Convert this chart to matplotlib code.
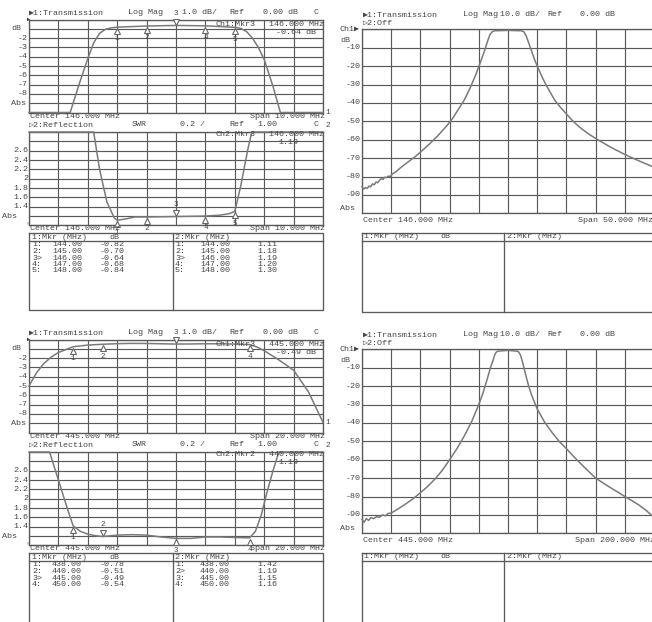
import numpy as np
import matplotlib
matplotlib.use('Agg')
import matplotlib.pyplot as plt
from matplotlib.transforms import offset_copy, blended_transform_factory

# ---------------- data ----------------
# Panel A: 146 MHz narrow (transmission + SWR)
a_center, a_span = 146.0, 10.0
a_trans_f = [141.0, 142.4, 142.7, 143.0, 143.2, 143.4, 143.6, 143.8, 144.0, 145.0, 146.0,
             147.0, 148.0, 148.2, 148.4, 148.6, 148.8, 149.0, 149.3, 149.55, 151.0]
a_trans_db = [-12.0, -10.0, -7.0, -4.2, -2.5, -1.5, -1.05, -0.9, -0.82, -0.70, -0.64,
              -0.68, -0.84, -0.95, -1.3, -2.0, -3.0, -4.3, -7.2, -10.0, -12.0]
a_swr_f = [141.0, 143.2, 143.4, 143.65, 143.9, 144.0, 144.3, 144.6, 145.0, 146.0, 147.0,
           147.5, 147.8, 148.0, 148.2, 148.45, 148.58, 151.0]
a_swr = [3.2, 3.0, 2.2, 1.5, 1.16, 1.11, 1.14, 1.18, 1.18, 1.19, 1.20,
         1.22, 1.25, 1.30, 1.84, 2.65, 3.0, 3.2]
a_mkr_f = [144.00, 145.00, 146.00, 147.00, 148.00]
a_mkr_db = [-0.82, -0.70, -0.64, -0.68, -0.84]
a_mkr_swr = [1.11, 1.18, 1.19, 1.20, 1.30]
a_active1, a_active2 = 3, 3

# Panel B: 146 MHz wide transmission
b_center, b_span = 146.0, 50.0
b_f = [121.0, 121.3, 121.6, 121.9, 122.2, 122.5, 122.8, 123.1, 123.4, 123.7, 124.0, 124.3,
       124.6, 124.9, 125.2, 125.5, 125.9, 126.2, 126.5, 126.8, 127.5, 128.5, 130.0, 131.0,
       132.5, 134.0, 135.5, 136.5, 137.5, 138.5, 139.5, 140.5, 141.5, 142.0, 142.5, 142.9,
       143.3, 143.7, 146.0, 148.3, 148.7, 149.1, 149.5, 150.0, 150.5, 151.0, 152.0, 153.0,
       154.0, 155.0, 156.0, 157.0, 158.0, 159.0, 160.0, 161.0, 162.0, 163.0, 164.0, 165.0,
       166.0, 167.0, 168.0, 169.0, 170.0, 171.0]
b_db = [-85.5, -86.8, -86.0, -86.5, -85.2, -85.6, -84.0, -84.5, -83.0, -83.4, -82.0, -81.2,
        -81.6, -80.4, -80.6, -79.8, -79.9, -78.6, -78.0, -77.5, -75.5, -73.0, -69.5, -66.8,
        -62.5, -57.8, -52.5, -48.5, -43.5, -38.5, -32.0, -24.5, -16.0, -11.5, -6.5, -3.0,
        -1.3, -0.8, -0.6, -0.8, -1.3, -3.5, -7.0, -11.5, -16.0, -20.0, -27.0, -33.0,
        -38.5, -42.5, -46.0, -49.5, -52.5, -55.0, -57.3, -59.3, -61.2, -63.0, -64.8, -66.4,
        -68.0, -69.5, -70.9, -72.3, -73.6, -75.0]

# Panel C: 445 MHz narrow (transmission + SWR)
c_center, c_span = 445.0, 20.0
c_trans_f = [435.0, 435.5, 436.0, 436.5, 437.0, 438.0, 439.0, 440.0, 441.0, 442.0, 443.0,
             444.0, 445.0, 446.0, 447.0, 448.0, 449.0, 450.0, 450.5, 451.0, 452.0, 453.0,
             454.0, 455.0]
c_trans_db = [-5.0, -3.6, -2.6, -1.9, -1.4, -0.78, -0.60, -0.51, -0.45, -0.42, -0.43,
              -0.46, -0.49, -0.48, -0.46, -0.46, -0.49, -0.54, -0.8, -1.2, -2.2, -3.3,
              -5.6, -8.9]
c_swr_f = [435.0, 436.4, 436.8, 437.2, 437.6, 438.0, 438.5, 439.0, 439.5, 440.0, 441.0,
           442.0, 443.0, 444.0, 445.0, 446.0, 447.0, 448.0, 449.0, 450.0, 450.4, 450.8,
           451.2, 451.6, 452.0, 455.0]
c_swr = [3.2, 3.0, 2.6, 2.2, 1.8, 1.42, 1.30, 1.24, 1.21, 1.19, 1.22,
         1.23, 1.22, 1.18, 1.15, 1.15, 1.18, 1.18, 1.17, 1.16, 1.30, 1.65,
         2.15, 2.60, 3.0, 3.2]
c_mkr_f = [438.00, 440.00, 445.00, 450.00]
c_mkr_db = [-0.78, -0.51, -0.49, -0.54]
c_mkr_swr = [1.42, 1.19, 1.15, 1.16]
c_active1, c_active2 = 3, 2

# Panel D: 445 MHz wide transmission
d_center, d_span = 445.0, 200.0
d_f = [345.0, 346.5, 348.0, 349.5, 351.0, 353.0, 355.0, 357.0, 359.0, 361.0, 363.0, 365.0,
       370.0, 375.0, 380.0, 385.0, 390.0, 395.0, 400.0, 405.0, 410.0, 415.0, 420.0, 425.0,
       428.0, 431.0, 433.0, 434.8, 436.0, 437.0, 438.0, 445.0, 451.0, 452.0, 453.5, 455.0,
       457.0, 459.0, 461.0, 463.0, 465.0, 470.0, 475.0, 480.0, 485.0, 490.0, 495.0, 500.0,
       505.0, 510.0, 515.0, 520.0, 525.0, 530.0, 535.0, 540.0, 545.0]
d_db = [-92.5, -94.0, -92.0, -93.0, -91.5, -92.0, -91.0, -91.3, -90.0, -90.5, -89.2, -89.0,
        -86.6, -84.0, -81.2, -78.0, -74.5, -70.5, -65.8, -60.0, -54.0, -47.2, -39.5, -30.0,
        -23.5, -15.5, -10.0, -6.0, -2.8, -1.5, -1.0, -0.6, -1.0, -1.2, -3.0, -7.0,
        -13.5, -19.5, -24.5, -28.5, -32.4, -39.5, -45.0, -50.0, -54.0, -58.3, -62.3, -66.2,
        -70.0, -72.6, -75.1, -77.5, -80.0, -82.3, -84.8, -87.8, -91.5]

trans_narrow_ticks = [-1, -2, -3, -4, -5, -6, -7, -8, -9]
trans_narrow_labels = ['dB', '-2', '-3', '-4', '-5', '-6', '-7', '-8', 'Abs']
swr_ticks = [2.6, 2.4, 2.2, 2.0, 1.8, 1.6, 1.4, 1.2]
swr_labels = ['2.6', '2.4', '2.2', '2', '1.8', '1.6', '1.4', 'Abs']
wide_ticks = [-10, -20, -30, -40, -50, -60, -70, -80, -90]
wide_labels = ['-10', '-20', '-30', '-40', '-50', '-60', '-70', '-80', '-90']

# ---------------- style ----------------
W, H = 652, 622
FONT = ['Liberation Mono', 'DejaVu Sans Mono', 'DejaVu Sans']
TXT = '#464646'
GRID = '#5a5a5a'
TRACE = '#7a7a7a'
FS = 6.0

fig = plt.figure(figsize=(W / 100, H / 100), dpi=100)
fig.patch.set_facecolor('white')

ov = fig.add_axes([0, 0, 1, 1], zorder=10)
ov.set_xlim(0, W)
ov.set_ylim(H, 0)
ov.axis('off')


def t(x, y, s, ha='left', va='center', fs=FS):
    ov.text(x, y, s, ha=ha, va=va, fontsize=fs, family=FONT, color=TXT)


def ax_px(x0, y0, x1, y1):
    return fig.add_axes([x0 / W, 1 - y1 / H, (x1 - x0) / W, (y1 - y0) / H])


def grid_axes(x0, y0, x1, y1, xlim, ylim):
    ax = ax_px(x0, y0, x1, y1)
    ax.set_xlim(xlim)
    ax.set_ylim(ylim)
    ax.set_xticks(np.linspace(xlim[0], xlim[1], 11))
    ax.set_yticks(np.linspace(ylim[0], ylim[1], 11))
    ax.tick_params(length=0, labelbottom=False, labelleft=False)
    ax.grid(True, color=GRID, lw=0.85)
    for s in ax.spines.values():
        s.set_color(GRID)
        s.set_linewidth(0.95)
    return ax


def ylabels(ax, ticks, labels, xnum, xword):
    trn = blended_transform_factory(ov.transData, ax.transData)
    for v, lab in zip(ticks, labels):
        if lab[0].isalpha():
            ax.text(xword, v, lab, transform=trn, ha='left', va='center',
                    fontsize=FS, family=FONT, color=TXT, clip_on=False)
        else:
            ax.text(xnum, v, lab, transform=trn, ha='right', va='center',
                    fontsize=FS, family=FONT, color=TXT, clip_on=False)


def trace(ax, f, v, ylim):
    lo, hi = min(ylim), max(ylim)
    ax.plot(f, np.clip(v, lo, hi), color=TRACE, lw=1.1, clip_on=False, zorder=4)


def markers(ax, f, v, active):
    for i, (fi, vi) in enumerate(zip(f, v), start=1):
        if i == active:
            tr = offset_copy(ax.transData, fig, y=2.8, units='points')
            ax.plot([fi], [vi], marker='v', ms=4.8, mfc='white', mec='#666666',
                    mew=0.8, transform=tr, clip_on=False, zorder=6)
            ax.annotate(str(i), (fi, vi), xytext=(0, 8.5), textcoords='offset points',
                        ha='center', va='center', fontsize=5.5, family=FONT, color=TXT,
                        annotation_clip=False, zorder=6)
        else:
            tr = offset_copy(ax.transData, fig, y=-2.8, units='points')
            ax.plot([fi], [vi], marker='^', ms=4.8, mfc='white', mec='#666666',
                    mew=0.8, transform=tr, clip_on=False, zorder=6)
            ax.annotate(str(i), (fi, vi), xytext=(0, -8.5), textcoords='offset points',
                        ha='center', va='center', fontsize=5.5, family=FONT, color=TXT,
                        annotation_clip=False, zorder=6)


def end_mark(ax, f, v, ylim, label, dy=0):
    lo, hi = min(ylim), max(ylim)
    ax.annotate(label, (f[-1], float(np.clip(v[-1], lo, hi))), xytext=(1.5, dy),
                textcoords='offset points', ha='left', va='center', fontsize=5.5,
                family=FONT, color=TXT, annotation_clip=False)


def table_box(x0, y0, x1, y1, xdiv, yhead):
    ov.plot([x0, x1, x1, x0, x0], [y0, y0, y1, y1, y0], color=GRID, lw=0.95)
    ov.plot([x0, x1], [yhead, yhead], color=GRID, lw=0.95)
    ov.plot([xdiv, xdiv], [y0, y1], color=GRID, lw=0.95)


def narrow_panel(dy, center, span, tf, tdb, sf, sv, mf, mdb, mswr, act1, act2):
    xl = (center - span / 2, center + span / 2)
    # ---- transmission
    ax = grid_axes(29, 19.5 + dy, 323, 112.5 + dy, xl, (-10, 0))
    trace(ax, tf, tdb, (-10, 0))
    markers(ax, mf, mdb, act1)
    end_mark(ax, tf, tdb, (-10, 0), '1')
    ylabels(ax, trans_narrow_ticks, trans_narrow_labels, 28, 11)
    t(26.5, 19.5 + dy, '\u25b6', fs=4)
    t(29, 13 + dy, '\u25b61:Transmission')
    t(128, 13 + dy, 'Log Mag')
    t(182, 13 + dy, '1.0 dB/')
    t(229, 13 + dy, 'Ref')
    t(263, 13 + dy, '0.00 dB')
    t(313, 13 + dy, 'C')
    t(215, 24 + dy, 'Ch1:Mkr%d' % act1)
    t(324, 24 + dy, '%.3f MHz' % mf[act1 - 1], ha='right')
    t(316, 33 + dy, '%.2f dB' % mdb[act1 - 1], ha='right')
    t(30, 116.5 + dy, 'Center %.3f MHz' % center)
    t(325, 116.5 + dy, 'Span %.3f MHz' % span, ha='right')
    # ---- reflection
    ax2 = grid_axes(29, 132 + dy, 323, 225.4 + dy, xl, (1.0, 3.0))
    trace(ax2, sf, sv, (1.0, 3.0))
    markers(ax2, mf, mswr, act2)
    end_mark(ax2, sf, sv, (1.0, 3.0), '2', dy=5)
    ylabels(ax2, swr_ticks, swr_labels, 28, 2)
    t(26, 224 + dy, '\u25b9', fs=4)
    t(29, 125 + dy, '\u25b72:Reflection')
    t(132, 125 + dy, 'SWR')
    t(180, 125 + dy, '0.2 /')
    t(229, 125 + dy, 'Ref')
    t(257, 125 + dy, '1.00')
    t(313, 125 + dy, 'C')
    t(215, 135 + dy, 'Ch2:Mkr%d' % act2)
    t(324, 135 + dy, '%.3f MHz' % mf[act2 - 1], ha='right')
    t(278, 143 + dy, '%.2f' % mswr[act2 - 1])
    t(30, 229 + dy, 'Center %.3f MHz' % center)
    t(325, 229 + dy, 'Span %.3f MHz' % span, ha='right')
    # ---- marker table
    table_box(29, 233 + dy, 323, 310 + dy if dy == 0 else 660, 173, 241 + dy)
    t(32, 237.3 + dy, '1:Mkr (MHz)')
    t(109, 237.3 + dy, 'dB')
    t(175, 237.3 + dy, '2:Mkr (MHz)')
    for k, (fv, dv, sw) in enumerate(zip(mf, mdb, mswr)):
        y = 245 + dy + 6.5 * k
        n = k + 1
        t(32, y, '%d%s' % (n, '>' if n == act1 else ':'))
        t(52, y, '%.2f' % fv)
        t(100, y, '%.2f' % dv)
        t(175, y, '%d%s' % (n, '>' if n == act2 else ':'))
        t(200, y, '%.2f' % fv)
        t(257, y, '%.2f' % sw)


def wide_panel(dy, center, span, f, v):
    xl = (center - span / 2, center + span / 2)
    ax = grid_axes(362, 29.3 + dy, 654, 213.3 + dy, xl, (-100, 0))
    trace(ax, f, v, (-100, 0))
    ylabels(ax, wide_ticks, wide_labels, 360.5, 340)
    t(340, 29.3 + dy, 'Ch1\u25b6')
    t(340, 40 + dy, 'dB')
    t(340, 209 + dy, 'Abs')
    t(363, 15 + dy, '\u25b61:Transmission')
    t(463, 15 + dy, 'Log Mag')
    t(500, 15 + dy, '10.0 dB/')
    t(547, 15 + dy, 'Ref')
    t(580, 15 + dy, '0.00 dB')
    t(363, 22.7 + dy, '\u25b72:Off')
    t(363, 220 + dy, 'Center %.3f MHz' % center)
    t(575 if span > 100 else 578, 220 + dy, 'Span %.3f MHz' % span)
    table_box(362, 232.7 + dy, 700, 312 + dy if dy == 0 else 700, 504, 240.7 + dy)
    t(364, 236.7 + dy, '1:Mkr (MHz)')
    t(440, 236.7 + dy, 'dB')
    t(507, 236.7 + dy, '2:Mkr (MHz)')


narrow_panel(0, a_center, a_span, a_trans_f, a_trans_db, a_swr_f, a_swr,
             a_mkr_f, a_mkr_db, a_mkr_swr, a_active1, a_active2)
narrow_panel(320, c_center, c_span, c_trans_f, c_trans_db, c_swr_f, c_swr,
             c_mkr_f, c_mkr_db, c_mkr_swr, c_active1, c_active2)
wide_panel(0, b_center, b_span, b_f, b_db)
wide_panel(320, d_center, d_span, d_f, d_db)

fig.savefig('out.png', dpi=100, facecolor='white')
